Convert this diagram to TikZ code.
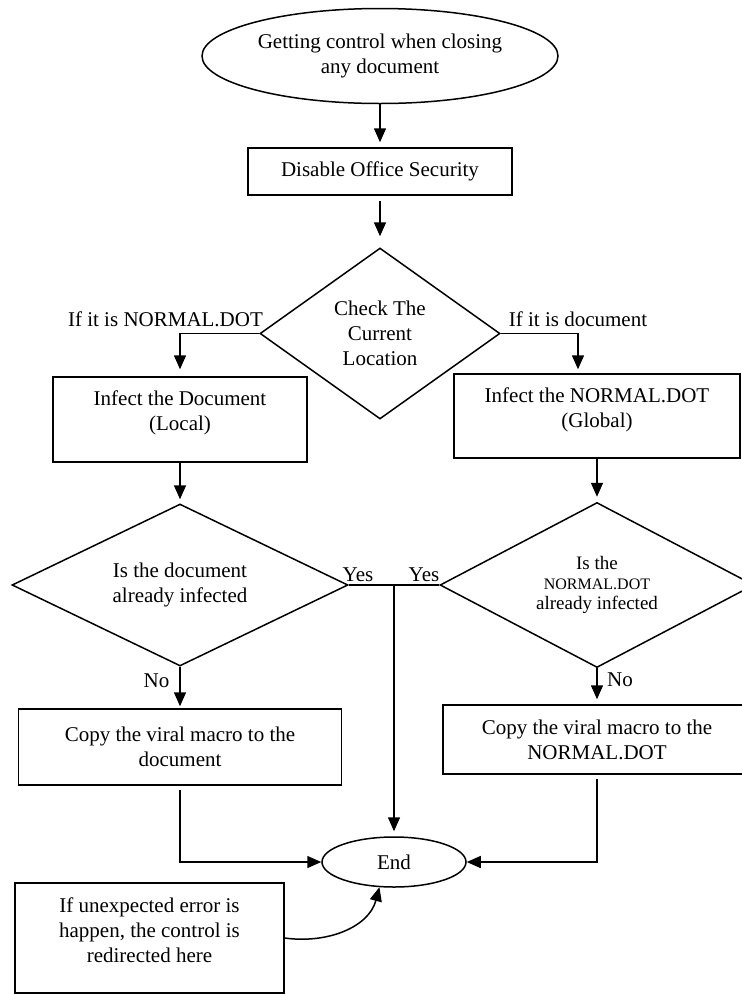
\documentclass[tikz,border=0pt]{standalone}
\usepackage{fontspec}
\setmainfont{Liberation Serif}
\usetikzlibrary{shapes.geometric,arrows.meta,calc}
\begin{document}
\begin{tikzpicture}[x=1pt,y=1pt,
  every node/.style={font=\fontsize{21}{25}\selectfont, inner sep=0pt, align=center},
  boxnode/.style={draw, line width=1.5pt, rectangle},
  ovalnode/.style={draw, line width=1.5pt, ellipse},
  decnode/.style={draw, line width=1.5pt, diamond},
  arr/.style={line width=1.5pt, -{Triangle[length=14pt,width=12pt]}},
  conn/.style={line width=1.5pt}]
\useasboundingbox (0,0) rectangle (742,-994);
\fill[white] (0,0) rectangle (742,-994);

\node[ovalnode, minimum width=356pt, minimum height=95pt] (start) at (380,-56) {Getting control when closing\\any document};
\node[boxnode, minimum width=264pt, minimum height=47pt] (disable) at (380,-171.5) {Disable Office Security};
\node[decnode, minimum width=240pt, minimum height=171pt, aspect=1.4] (check) at (380,-333.5) {Check The\\Current\\Location};
\node[boxnode, minimum width=254pt, minimum height=85pt, text depth=17pt] (infdoc) at (180,-419.5) {Infect the Document\\(Local)};
\node[boxnode, minimum width=286pt, minimum height=84pt, text depth=17pt] (infnorm) at (597,-416) {Infect the NORMAL.DOT\\(Global)};
\node[decnode, minimum width=336pt, minimum height=162pt, aspect=2] (isdoc) at (180,-585) {Is the document\\already infected};
\node[decnode, minimum width=314pt, minimum height=165pt, aspect=2, font=\fontsize{19}{20}\selectfont] (isnorm) at (597,-585) {Is the\\{\fontsize{16}{20}\selectfont NORMAL.DOT}\\already infected};
\node[boxnode, minimum width=323pt, minimum height=76pt] (copydoc) at (180,-747) {Copy the viral macro to the\\document};
\node[boxnode, minimum width=308pt, minimum height=69pt] (copynorm) at (597,-739.5) {Copy the viral macro to the\\NORMAL.DOT};
\node[ovalnode, minimum width=144pt, minimum height=50pt] (end) at (394,-862) {End};
\node[boxnode, minimum width=269pt, minimum height=110pt, text depth=16pt] (err) at (149.5,-938) {If unexpected error is\\happen, the control is\\redirected here};

\node (lblnormal) at (165.5,-319) {If it is NORMAL.DOT};
\node (lbldoc) at (578,-319) {If it is document};
\node (yesl) at (358,-575) {Yes};
\node (yesr) at (424,-575) {Yes};
\node (nol) at (156.5,-681) {No};
\node (nor) at (620,-680) {No};

\draw[arr, shorten >=5pt] (start.south) -- (disable.north);
\draw[arr, shorten <=5pt, shorten >=11pt] (disable.south) -- (check.north);
\draw[arr, shorten >=7pt] (check.west) -| (infdoc.north);
\coordinate (infnormin) at ($(infnorm.north)+(-19,0)$);
\draw[arr, shorten >=4pt] (check.east) -| (infnormin);
\draw[arr, shorten >=4pt] (infdoc.south) -- (isdoc.north);
\draw[arr, shorten >=5pt] (infnorm.south) -- (isnorm.north);
\draw[arr, shorten >=2pt] (isdoc.south) -- (copydoc.north);
\draw[arr, shorten >=5pt] (isnorm.south) -- (copynorm.north);
\draw[conn] (isdoc.east) -- (isnorm.west);
\coordinate (yesjoin) at (isdoc.east -| end.north);
\draw[arr, shorten >=5pt] (yesjoin) -- (end.north);
\draw[arr, shorten <=4pt] (copydoc.south) |- (end.west);
\draw[arr, shorten <=4pt] (copynorm.south) |- (end.east);
\draw[arr] (err.east) to[out=-8,in=-105] (end.-120);
\end{tikzpicture}
\end{document}
